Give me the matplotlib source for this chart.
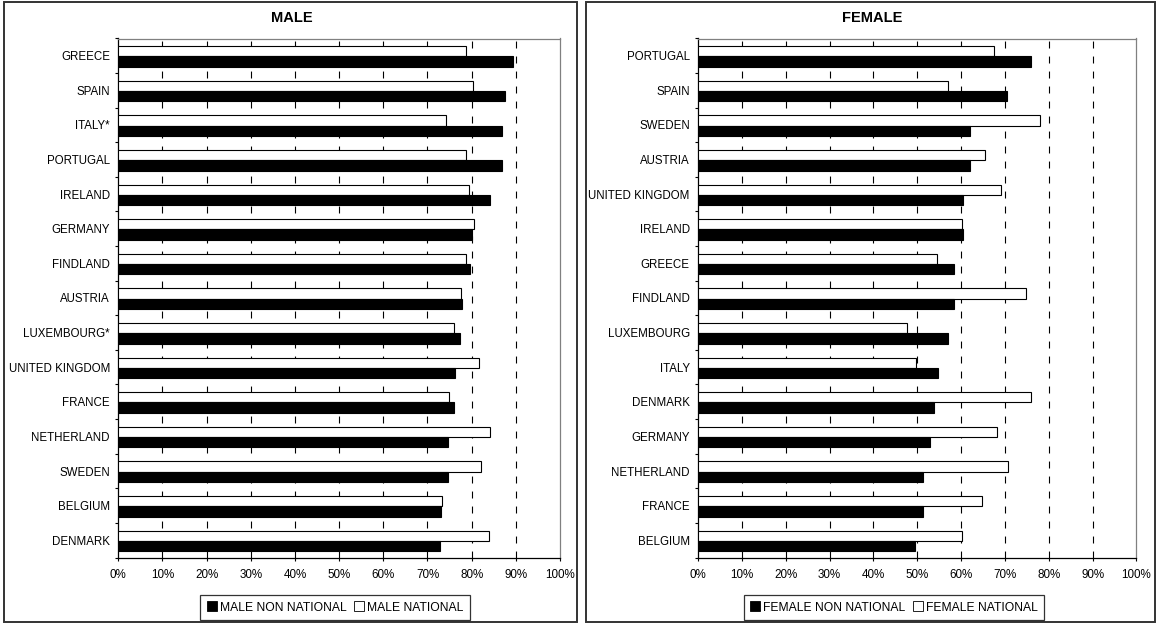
import matplotlib
matplotlib.use("Agg")
import matplotlib.pyplot as plt
from matplotlib.patches import Patch, Rectangle
from matplotlib.ticker import FixedLocator, FuncFormatter

plt.rcParams["font.family"] = ["Liberation Sans", "DejaVu Sans"]
plt.rcParams["lines.scale_dashes"] = False

# Employment rates by country (share of population), 15 countries per panel
male_countries = ["GREECE", "SPAIN", "ITALY*", "PORTUGAL", "IRELAND", "GERMANY",
                  "FINDLAND", "AUSTRIA", "LUXEMBOURG*", "UNITED KINGDOM", "FRANCE",
                  "NETHERLAND", "SWEDEN", "BELGIUM", "DENMARK"]
male_non_national = [0.893, 0.876, 0.868, 0.868, 0.841, 0.800, 0.796, 0.778, 0.774,
                     0.762, 0.760, 0.746, 0.746, 0.730, 0.728]
male_national = [0.787, 0.803, 0.741, 0.787, 0.794, 0.805, 0.787, 0.775, 0.759,
                 0.816, 0.748, 0.842, 0.821, 0.732, 0.840]

female_countries = ["PORTUGAL", "SPAIN", "SWEDEN", "AUSTRIA", "UNITED KINGDOM", "IRELAND",
                    "GREECE", "FINDLAND", "LUXEMBOURG", "ITALY", "DENMARK", "GERMANY",
                    "NETHERLAND", "FRANCE", "BELGIUM"]
female_non_national = [0.759, 0.704, 0.620, 0.620, 0.604, 0.604, 0.583, 0.583, 0.569,
                       0.548, 0.537, 0.529, 0.512, 0.512, 0.494]
female_national = [0.674, 0.571, 0.781, 0.655, 0.690, 0.603, 0.544, 0.749, 0.477,
                   0.498, 0.760, 0.682, 0.708, 0.647, 0.603]

x_ticks = [i / 10 for i in range(11)]

W, H = 1156, 623
fig = plt.figure(figsize=(W / 100, H / 100), dpi=100)


def fx(px):
    return px / W


def fy(py):
    return 1 - py / H


AX_TOP, AX_BOTTOM = 38.5, 557.5


def panel(frame_x, ax_x, title, countries, non_nat, nat, labels, legend_x):
    x0, x1 = frame_x
    # outer frame of the panel
    fig.patches.append(Rectangle((fx(x0), fy(621.5)), fx(x1) - fx(x0), fy(1.5) - fy(621.5),
                                 transform=fig.transFigure, fill=False,
                                 edgecolor="#333333", linewidth=1.4, zorder=0))
    fig.text(fx((x0 + x1) / 2 + 1.5), fy(17.5), title, ha="center", va="center",
             fontsize=10.5, fontweight="bold")

    a0, a1 = ax_x
    ax = fig.add_axes([fx(a0), fy(AX_BOTTOM), fx(a1) - fx(a0), fy(AX_TOP) - fy(AX_BOTTOM)])

    n = len(countries)
    pos = list(range(n))
    h = 0.30
    ax.barh([p - h / 2 + 0.02 for p in pos], nat, height=h, color="white",
            edgecolor="black", linewidth=0.8, zorder=3)
    ax.barh([p + h / 2 + 0.02 for p in pos], non_nat, height=h, color="black",
            edgecolor="black", linewidth=0.8, zorder=3)

    ax.set_xlim(0, 1)
    ax.set_ylim(n - 0.5, -0.5)

    for g in x_ticks[1:-1]:
        ax.axvline(g, color="black", linewidth=0.8, linestyle=(0, (5.0, 5.8)), zorder=1)

    ax.xaxis.set_major_locator(FixedLocator(x_ticks))
    ax.xaxis.set_major_formatter(FuncFormatter(lambda v, _: f"{round(v * 100)}%"))
    ax.tick_params(axis="x", direction="out", length=2.5, width=0.8, pad=5.5,
                   labelsize=8.4, colors="black")

    ax.set_yticks(pos)
    ax.set_yticklabels(countries, fontsize=8.3)
    ax.tick_params(axis="y", which="major", length=0, pad=6)
    ax.set_yticks([p + 0.5 for p in range(-1, n)], minor=True)
    ax.tick_params(axis="y", which="minor", direction="out", length=2.5, width=0.8)

    for side in ("top", "right"):
        ax.spines[side].set_color("#808080")
        ax.spines[side].set_linewidth(0.9)
    for side in ("left", "bottom"):
        ax.spines[side].set_color("black")
        ax.spines[side].set_linewidth(0.9)

    handles = [Patch(facecolor="black", edgecolor="black", linewidth=0.6),
               Patch(facecolor="white", edgecolor="black", linewidth=0.6)]
    leg = fig.legend(handles, labels, loc="center",
                     bbox_to_anchor=(fx(legend_x), fy(607.5)),
                     bbox_transform=fig.transFigure, ncol=2, fontsize=8.7,
                     frameon=True, fancybox=False, edgecolor="black",
                     handlelength=0.85, handleheight=0.85, handletextpad=0.25,
                     columnspacing=0.6, borderpad=0.5, borderaxespad=0)
    leg.get_frame().set_linewidth(0.9)
    return ax


panel((4, 577), (118.3, 560), "MALE", male_countries, male_non_national, male_national,
      ["MALE NON NATIONAL", "MALE NATIONAL"], 335)
panel((586, 1155), (698.2, 1136.4), "FEMALE", female_countries, female_non_national,
      female_national, ["FEMALE NON NATIONAL", "FEMALE NATIONAL"], 894)

fig.savefig("out.png", dpi=100)
